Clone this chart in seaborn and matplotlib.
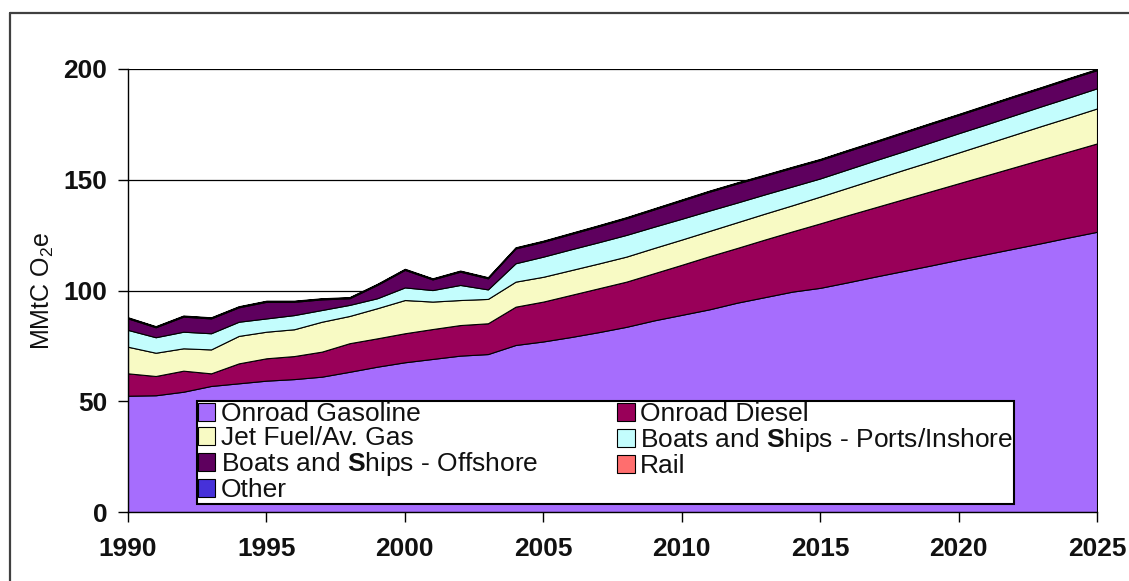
import matplotlib
matplotlib.use("Agg")
import matplotlib.pyplot as plt
import seaborn as sns
from matplotlib.lines import Line2D

years = list(range(1990, 2026))

onroad_gasoline = [52.5, 52.7, 54.3, 56.9, 58.1, 59.3, 60.0, 61.1, 63.3, 65.6,
                   67.6, 69.1, 70.6, 71.3, 75.4, 77.0, 79.0, 81.2, 83.6, 86.5,
                   89.0, 91.5, 94.5, 97.0, 99.5, 101.2, 103.7, 106.3, 108.8, 111.3,
                   113.9, 116.4, 118.9, 121.4, 124.0, 126.5]
onroad_diesel = [10.1, 8.7, 9.5, 5.7, 9.0, 10.1, 10.4, 11.3, 12.9, 12.8,
                 13.1, 13.5, 13.8, 13.9, 17.3, 18.0, 19.0, 19.8, 20.4, 21.3,
                 22.6, 24.0, 24.7, 26.0, 27.2, 29.1, 30.3, 31.3, 32.4, 33.5,
                 34.5, 35.6, 36.7, 37.8, 38.8, 39.9]
jet_fuel = [12.0, 10.5, 10.1, 10.8, 12.4, 12.0, 12.1, 13.5, 12.3, 13.6,
            15.0, 12.4, 11.3, 11.0, 11.3, 11.2, 11.2, 11.2, 11.3, 11.4,
            11.4, 11.4, 11.6, 11.7, 11.8, 12.1, 12.4, 12.8, 13.2, 13.5,
            13.9, 14.3, 14.7, 15.1, 15.4, 15.8]
boats_ports = [7.6, 7.0, 7.5, 7.3, 6.4, 6.0, 6.4, 5.3, 5.0, 4.5,
               5.7, 5.2, 6.8, 4.3, 8.3, 9.1, 9.4, 9.6, 9.8, 9.6,
               9.4, 9.2, 8.9, 8.7, 8.5, 8.2, 8.3, 8.4, 8.4, 8.6,
               8.7, 8.7, 8.8, 8.9, 9.0, 9.1]
boats_offshore = [5.2, 4.5, 6.8, 6.7, 6.5, 7.5, 6.0, 4.8, 3.0, 6.0,
                  7.9, 4.8, 6.0, 5.0, 6.7, 6.7, 6.9, 7.2, 7.5, 7.8,
                  8.2, 8.5, 8.6, 8.4, 8.4, 8.3, 8.3, 8.2, 8.3, 8.3,
                  8.2, 8.3, 8.3, 8.2, 8.3, 8.2]
rail = [0.3, 0.3, 0.3, 0.3, 0.3, 0.3, 0.3, 0.3, 0.3, 0.3,
        0.3, 0.3, 0.3, 0.3, 0.3, 0.3, 0.3, 0.3, 0.3, 0.3,
        0.3, 0.3, 0.3, 0.3, 0.3, 0.3, 0.3, 0.3, 0.3, 0.3,
        0.3, 0.3, 0.3, 0.3, 0.3, 0.3]
other = [0.2, 0.2, 0.2, 0.2, 0.2, 0.2, 0.2, 0.2, 0.2, 0.2,
         0.2, 0.2, 0.2, 0.2, 0.2, 0.2, 0.2, 0.2, 0.2, 0.2,
         0.2, 0.2, 0.2, 0.2, 0.2, 0.2, 0.2, 0.2, 0.2, 0.2,
         0.2, 0.2, 0.2, 0.2, 0.2, 0.2]

series_labels = ["Onroad Gasoline", "Onroad Diesel", "Jet Fuel/Av. Gas",
                 r"Boats and $\mathbf{S}$hips - Ports/Inshore",
                 r"Boats and $\mathbf{S}$hips - Offshore", "Rail", "Other"]
series_colors = ["#a66dfd", "#990059", "#f8fac4", "#c3fdfd", "#5e005e", "#ff6e6e", "#4631d9"]
x_ticks = [1990, 1995, 2000, 2005, 2010, 2015, 2020, 2025]
y_ticks = [0, 50, 100, 150, 200]

sns.set_theme(style="white")
plt.rcParams['font.family'] = ['Liberation Sans', 'DejaVu Sans']
plt.rcParams['mathtext.fontset'] = 'custom'
plt.rcParams['mathtext.rm'] = 'Liberation Sans'
plt.rcParams['mathtext.it'] = 'Liberation Sans:italic'
plt.rcParams['mathtext.bf'] = 'Liberation Sans:bold'

W, H = 1129, 581
fig = plt.figure(figsize=(W / 100, H / 100), dpi=100)
fig.patch.set_facecolor("white")
ax = fig.add_axes([128 / W, 1 - 512 / H, (1097 - 128) / W, (512 - 69) / H])
ax.set_facecolor("white")
ax.set_axisbelow(True)
ax.yaxis.grid(True, color="black", linewidth=0.9)
ax.xaxis.grid(False)

polys = ax.stackplot(years, onroad_gasoline, onroad_diesel, jet_fuel, boats_ports,
                     boats_offshore, rail, other, colors=series_colors,
                     labels=series_labels, edgecolor="black", linewidth=0.8)

ax.set_xlim(1990, 2025)
ax.set_ylim(0, 200)
ax.set_xticks(x_ticks)
ax.set_yticks(y_ticks)
sns.despine(ax=ax, top=True, right=True)
for s in ["left", "bottom"]:
    ax.spines[s].set_color("black")
    ax.spines[s].set_linewidth(1.0)
ax.tick_params(axis="both", which="major", direction="out", length=7, width=1,
               color="black", labelsize=19, labelcolor="#111111",
               bottom=True, left=True)
ax.tick_params(axis="x", pad=11)
ax.tick_params(axis="y", pad=8)
for lbl in ax.get_xticklabels() + ax.get_yticklabels():
    lbl.set_fontweight("bold")

ax.set_ylabel(r"MMtC O$_2$e", fontsize=18, color="#111111", labelpad=5)

order = [0, 2, 4, 6, 1, 3, 5]
handles = [polys[i] for i in order]
labels = [series_labels[i] for i in order]
leg = ax.legend(handles, labels, ncol=2, loc="upper left",
                bbox_to_anchor=(197 / W, 1 - 401 / H), bbox_transform=fig.transFigure,
                fontsize=19, frameon=True, fancybox=False, framealpha=1,
                edgecolor="black", borderpad=0.05, labelspacing=0.0,
                handlelength=0.65, handleheight=0.65, handletextpad=0.2,
                columnspacing=3.0, borderaxespad=0)
leg.get_frame().set_linewidth(1.5)
for t in leg.get_texts():
    t.set_color("#111111")

fig.add_artist(Line2D([10 / W, 10 / W], [0, 1 - 13 / H], transform=fig.transFigure,
                      color="#404040", linewidth=1.6))
fig.add_artist(Line2D([10 / W, 1], [1 - 13 / H, 1 - 13 / H], transform=fig.transFigure,
                      color="#404040", linewidth=1.6))

fig.savefig("out.png", dpi=100, facecolor="white")
